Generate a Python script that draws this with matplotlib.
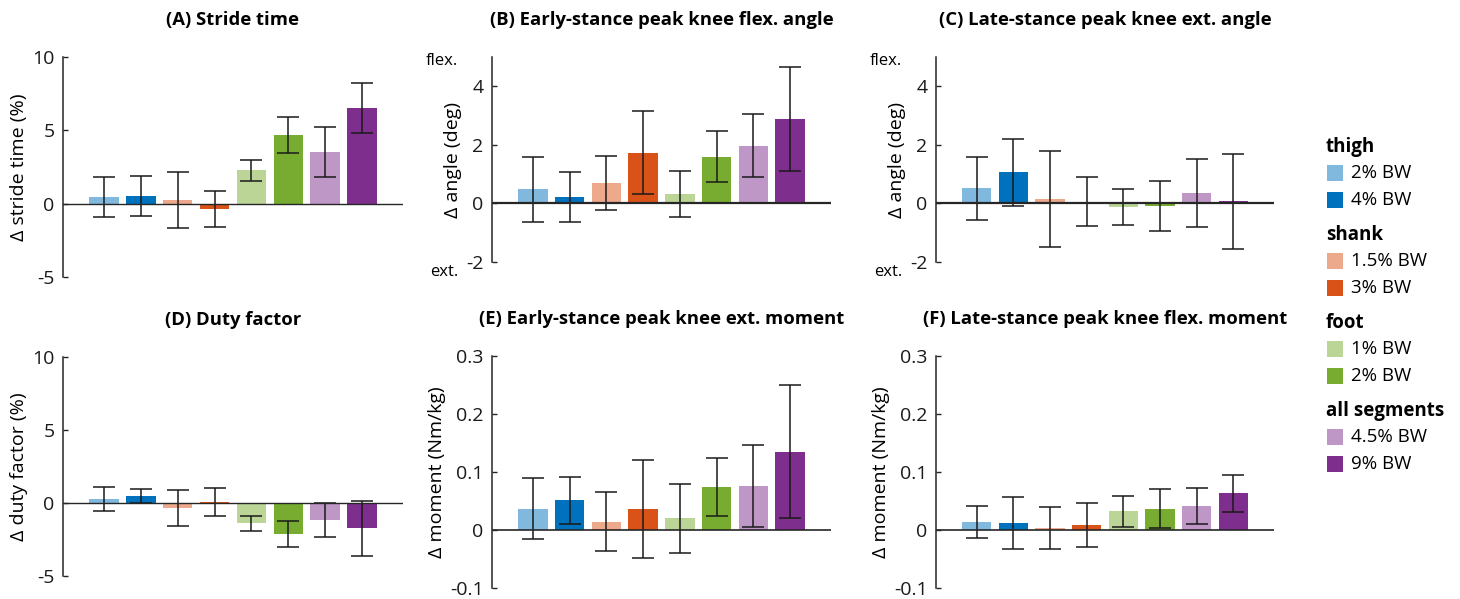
import matplotlib
matplotlib.use("Agg")
import matplotlib.pyplot as plt
from matplotlib.patches import Rectangle
import matplotlib.transforms as mtransforms

plt.rcParams['font.family'] = ['Open Sans', 'DejaVu Sans']
plt.rcParams['axes.unicode_minus'] = False

# conditions, in bar order
groups = ["thigh", "shank", "foot", "all segments"]
group_labels = [["2% BW", "4% BW"], ["1.5% BW", "3% BW"], ["1% BW", "2% BW"], ["4.5% BW", "9% BW"]]
colors = ["#80b8de", "#0072bd", "#eca98c", "#d95319", "#bbd597", "#77ac30", "#be97c6", "#7e2f8e"]

# (A) stride time, % change
stride_mean = [0.46, 0.55, 0.23, -0.34, 2.28, 4.68, 3.52, 6.51]
stride_sd = [1.35, 1.37, 1.90, 1.23, 0.73, 1.20, 1.72, 1.69]
# (B) early-stance peak knee flexion angle, deg
flex_angle_mean = [0.48, 0.23, 0.69, 1.73, 0.31, 1.59, 1.97, 2.89]
flex_angle_sd = [1.10, 0.85, 0.92, 1.42, 0.79, 0.87, 1.08, 1.77]
# (C) late-stance peak knee extension angle, deg
ext_angle_mean = [0.51, 1.06, 0.14, 0.06, -0.11, -0.09, 0.37, 0.07]
ext_angle_sd = [1.07, 1.14, 1.64, 0.84, 0.61, 0.85, 1.16, 1.63]
# (D) duty factor, % change
duty_mean = [0.28, 0.48, -0.37, 0.09, -1.38, -2.11, -1.15, -1.72]
duty_sd = [0.85, 0.50, 1.23, 0.96, 0.52, 0.91, 1.17, 1.89]
# (E) early-stance peak knee extension moment, Nm/kg
ext_moment_mean = [0.037, 0.051, 0.014, 0.036, 0.020, 0.075, 0.076, 0.135]
ext_moment_sd = [0.053, 0.041, 0.051, 0.085, 0.060, 0.050, 0.071, 0.115]
# (F) late-stance peak knee flexion moment, Nm/kg
flex_moment_mean = [0.014, 0.012, 0.004, 0.008, 0.032, 0.037, 0.042, 0.063]
flex_moment_sd = [0.027, 0.045, 0.036, 0.038, 0.026, 0.033, 0.031, 0.032]

pct_ticks = [-5, 0, 5, 10]
pct_ticklabels = ["-5", "0", "5", "10"]
angle_ticks = [-2, 0, 2, 4]
angle_ticklabels = ["-2", "0", "2", "4"]
moment_ticks = [-0.1, 0, 0.1, 0.2, 0.3]
moment_ticklabels = ["-0.1", "0", "0.1", "0.2", "0.3"]

W, H = 1460, 599
fig = plt.figure(figsize=(14.6, 5.99), dpi=100)

def px_axes(x0, x1, ytop, ybot):
    return fig.add_axes([x0 / W, 1 - ybot / H, (x1 - x0) / W, (ybot - ytop) / H])

panels = [
    ("(A) Stride time", stride_mean, stride_sd, (-5, 10), pct_ticks, pct_ticklabels,
     "Δ stride time (%)", (63, 403, 57, 277), False, 1.0),
    ("(B) Early-stance peak knee flex. angle", flex_angle_mean, flex_angle_sd, (-2, 5), angle_ticks,
     angle_ticklabels, "Δ angle (deg)", (492, 831, 57, 262), True, 1.6),
    ("(C) Late-stance peak knee ext. angle", ext_angle_mean, ext_angle_sd, (-2, 5), angle_ticks,
     angle_ticklabels, "Δ angle (deg)", (936, 1274, 57, 262), True, 1.6),
    ("(D) Duty factor", duty_mean, duty_sd, (-5, 10), pct_ticks, pct_ticklabels,
     "Δ duty factor (%)", (63, 403, 357, 576), False, 1.0),
    ("(E) Early-stance peak knee ext. moment", ext_moment_mean, ext_moment_sd, (-0.1, 0.3), moment_ticks,
     moment_ticklabels, "Δ moment (Nm/kg)", (492, 831, 356, 588), False, 1.2),
    ("(F) Late-stance peak knee flex. moment", flex_moment_mean, flex_moment_sd, (-0.1, 0.3), moment_ticks,
     moment_ticklabels, "Δ moment (Nm/kg)", (936, 1274, 356, 588), False, 1.2),
]

xs = list(range(1, 9))
for title, mean, sd, ylim, ticks, ticklabels, ylabel, box, flexext, base_lw in panels:
    ax = px_axes(*box)
    ax.bar(xs, mean, width=0.8, color=colors, yerr=sd,
           error_kw=dict(ecolor="#1a1a1a", elinewidth=1.1, capsize=8, capthick=1.1))
    ax.axhline(0, color="#262626", lw=base_lw, zorder=3)
    ax.set_xlim(-0.11, 9.11)
    ax.set_ylim(*ylim)
    ax.set_yticks(ticks)
    ax.set_yticklabels(ticklabels)
    ax.set_xticks([])
    for s in ["top", "right", "bottom"]:
        ax.spines[s].set_visible(False)
    ax.spines["left"].set_color("#262626")
    ax.spines["left"].set_linewidth(1.1)
    ax.tick_params(axis="y", direction="in", length=3.5, width=1, labelsize=14, pad=6, colors="#262626")
    ax.tick_params(axis="y", labelcolor="#1a1a1a")
    ax.set_ylabel(ylabel, fontsize=14, labelpad=3)
    ax.set_title(title, fontsize=13.3, fontweight="bold", pad=23)
    ax.patch.set_alpha(0)
    if flexext:
        tr = mtransforms.blended_transform_factory(ax.transAxes, ax.transData)
        ax.text(-0.10, 4.88, "flex.", transform=tr, ha="right", va="center", fontsize=12)
        ax.text(-0.10, -2.35, "ext.", transform=tr, ha="right", va="center", fontsize=12)

# legend on the right
y = 147
k = 0
for g, labs in zip(groups, group_labels):
    fig.text(1326 / W, 1 - y / H, g, fontsize=13.5, fontweight="bold", va="center", ha="left")
    y += 26
    for lab in labs:
        fig.patches.append(Rectangle((1327 / W, 1 - (y + 8) / H), 16 / W, 16 / H,
                                     transform=fig.transFigure, facecolor=colors[k], edgecolor="none"))
        fig.text(1351 / W, 1 - y / H, lab, fontsize=13.5, va="center", ha="left")
        y += 27
        k += 1
    y += 8

fig.savefig("out.png", dpi=100)
